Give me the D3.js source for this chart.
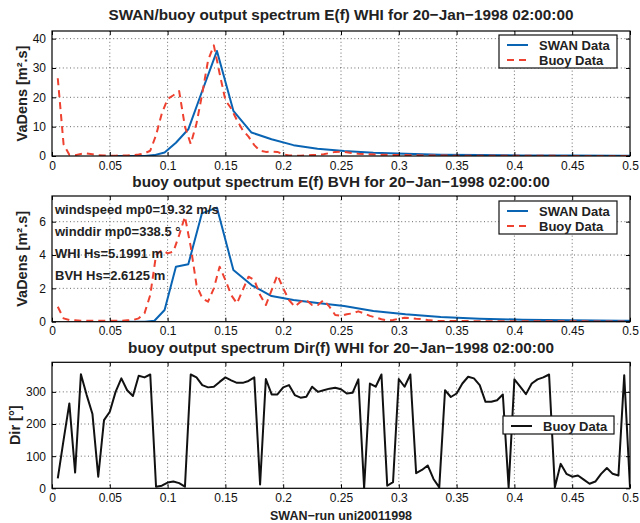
<!DOCTYPE html>
<html><head><meta charset="utf-8">
<script src="https://cdn.jsdelivr.net/npm/d3@7"></script>
<style>body{margin:0;background:#fff} svg{display:block;font-family:"Liberation Sans",Arial,Helvetica,sans-serif}</style>
</head><body><svg id="c" width="640" height="523"></svg>
<script>
// ---------------- data ----------------
const freqBuoy = [0.005,0.01,0.015,0.02,0.025,0.03,0.035,0.04,0.045,0.05,
0.055,0.06,0.065,0.07,0.075,0.08,0.085,0.09,0.095,0.1,
0.105,0.11,0.115,0.12,0.125,0.13,0.135,0.14,0.145,0.15,
0.155,0.16,0.165,0.17,0.175,0.18,0.185,0.19,0.195,0.2,
0.205,0.21,0.215,0.22,0.225,0.23,0.235,0.24,0.245,0.25,
0.255,0.26,0.265,0.27,0.275,0.28,0.285,0.29,0.295,0.3,
0.305,0.31,0.315,0.32,0.325,0.33,0.335,0.34,0.345,0.35,
0.355,0.36,0.365,0.37,0.375,0.38,0.385,0.39,0.395,0.4,
0.405,0.41,0.415,0.42,0.425,0.43,0.435,0.44,0.445,0.45,
0.455,0.46,0.465,0.47,0.475,0.48,0.485,0.49,0.495,0.5];

const freqSwan = [0.05,0.055,0.0605,0.0666,0.0732,0.0805,0.0886,0.0974,0.1072,0.1179,
0.1297,0.1427,0.1569,0.1726,0.1899,0.2089,0.2297,0.2527,0.278,0.3058,
0.3363,0.37,0.407,0.4477,0.4924,0.5417];

const swanWHI = [0,0,0,0,0,0,0.3,1.2,4.5,9.1,
21.9,35.8,15.4,8.0,5.7,3.7,2.5,1.7,1.1,0.8,
0.45,0.3,0.2,0.15,0.1,0.07];

const swanBVH = [0,0,0,0,0,0,0.06,0.7,3.3,3.44,
6.5,6.84,3.1,2.2,1.54,1.3,1.12,0.94,0.64,0.44,
0.28,0.18,0.12,0.08,0.06,0.04];

const buoyWHI = [26.5,4.0,0.4,0.3,0.7,0.9,0.6,0.3,0.2,0.1,
0.1,0.2,0.2,0.3,0.5,0.9,1.8,7.1,14.5,19.4,
20.7,22.1,10.0,4.1,11.1,21.3,32.6,37.7,28.1,19.0,
16.2,12.2,8.8,6.6,3.7,1.8,1.4,1.5,1.4,0.6,
0.2,0.1,0.1,0.2,0.3,0.4,0.6,1.0,1.4,1.5,
1.3,1.0,0.8,0.7,0.6,0.5,0.45,0.4,0.35,0.3,
0.3,0.25,0.22,0.2,0.18,0.16,0.15,0.14,0.13,0.12,
0.11,0.11,0.1,0.1,0.09,0.09,0.08,0.08,0.07,0.07,
0.06,0.06,0.06,0.05,0.05,0.05,0.05,0.04,0.04,0.04,
0.04,0.04,0.03,0.03,0.03,0.03,0.03,0.03,0.03,0.03];

const buoyBVH = [0.9,0.2,0.1,0.08,0.06,0.05,0.06,0.05,0.05,0.05,
0.06,0.06,0.08,0.1,0.2,0.5,1.6,4.0,4.3,4.1,
4.2,5.2,6.3,4.5,2.2,1.4,1.2,2.0,3.3,2.5,
1.6,1.1,1.9,2.7,2.5,1.6,1.0,1.9,2.8,2.0,
1.3,0.9,1.2,1.3,1.0,1.0,1.3,0.9,0.4,0.35,
0.45,0.5,0.62,0.5,0.35,0.25,0.15,0.08,0.1,0.18,
0.24,0.22,0.18,0.15,0.1,0.06,0.04,0.04,0.04,0.04,
0.04,0.04,0.03,0.03,0.03,0.03,0.03,0.03,0.03,0.03,
0.02,0.02,0.02,0.02,0.02,0.02,0.02,0.02,0.02,0.02,
0.02,0.02,0.01,0.01,0.01,0.01,0.01,0.01,0.01,0.01];

const dirWHI = [31,150,264,49,355,290,231,36,212,238,
300,342,305,287,350,345,354,5,8,18,
21,16,5,354,345,321,314,316,331,345,
336,328,328,334,345,12,340,292,292,314,
321,290,282,285,316,300,305,310,313,308,
295,297,339,0,326,316,354,8,19,340,
316,354,47,57,71,29,3,305,284,295,
326,347,342,321,269,269,274,292,3,339,
316,293,326,339,345,354,3,76,45,36,
40,27,14,21,45,63,45,40,352,3];

const xTickValues = [0,0.05,0.1,0.15,0.2,0.25,0.3,0.35,0.4,0.45,0.5];
const xTickLabels = ["0","0.05","0.1","0.15","0.2","0.25","0.3","0.35","0.4","0.45","0.5"];
const yTicksE1 = [0,10,20,30,40];
const yTicksE2 = [0,2,4,6];
const yTicksDir = [0,100,200,300];

const titles = [
  "SWAN/buoy output spectrum E(f) WHI for 20\u2212Jan\u22121998 02:00:00",
  "buoy output spectrum E(f) BVH for 20\u2212Jan\u22121998 02:00:00",
  "buoy output spectrum Dir(f) WHI for 20\u2212Jan\u22121998 02:00:00"
];
const yLabels = ["VaDens [m\u00B2.s]","VaDens [m\u00B2.s]","Dir [\u00B0]"];
const xLabel = "SWAN\u2212run uni20011998";
const legendNames = ["SWAN Data","Buoy Data"];
const infoLines = ["windspeed mp0=19.32 m/s","winddir mp0=338.5 \u00B0","WHI Hs=5.1991 m","BVH Hs=2.6125 m"];

// ---------------- drawing ----------------
const svg = d3.select("#c");
const L = 52, R = 630;
const BLUE = "#0a64b4", RED = "#ee4130";
const x = d3.scaleLinear().domain([0,0.5]).range([L,R]);

function panel(o){
  const g = svg.append("g");
  const y = d3.scaleLinear().domain([0,o.ymax]).range([o.bottom,o.top]);
  const id = "clip"+o.key;
  svg.append("clipPath").attr("id",id).append("rect")
    .attr("x",L).attr("y",o.top).attr("width",R-L).attr("height",o.bottom-o.top);

  // grid
  const grid = g.append("g").attr("stroke","#444").attr("stroke-width",0.8).attr("stroke-dasharray","1,2.6");
  grid.selectAll(".gx").data(xTickValues.slice(1,-1)).join("line")
    .attr("x1",d=>x(d)).attr("x2",d=>x(d)).attr("y1",o.top).attr("y2",o.bottom);
  grid.selectAll(".gy").data(o.yTicks.slice(1)).join("line")
    .attr("y1",d=>y(d)).attr("y2",d=>y(d)).attr("x1",L).attr("x2",R);

  // series
  const lines = g.append("g").attr("clip-path",`url(#${id})`);
  o.series.forEach(s=>{
    const line = d3.line().x((d,i)=>x(s.xs[i])).y(d=>y(d));
    lines.append("path").datum(s.ys).attr("d",line).attr("fill","none")
      .attr("stroke",s.color).attr("stroke-width",2)
      .attr("stroke-linejoin","round")
      .attr("stroke-dasharray",s.dash||null);
  });

  // axes
  const fmt = (d,i)=>xTickLabels[i];
  g.append("g").attr("transform",`translate(0,${o.bottom})`)
    .call(d3.axisBottom(x).tickValues(xTickValues).tickSize(-4).tickPadding(5).tickFormat(fmt));
  g.append("g").attr("transform",`translate(0,${o.top})`)
    .call(d3.axisTop(x).tickValues(xTickValues).tickSize(-4).tickFormat(""));
  g.append("g").attr("transform",`translate(${L},0)`)
    .call(d3.axisLeft(y).tickValues(o.yTicks).tickSize(-4).tickPadding(6).tickFormat(d3.format("d")));
  g.append("g").attr("transform",`translate(${R},0)`)
    .call(d3.axisRight(y).tickValues(o.yTicks).tickSize(-4).tickFormat(""));
  g.selectAll(".domain").remove();
  g.selectAll(".tick line").attr("stroke","#000").attr("stroke-width",1);
  g.selectAll(".tick text").attr("font-size",12).attr("fill","#111")
    .attr("font-family",'"Liberation Sans",Arial,sans-serif');

  g.append("rect").attr("x",L).attr("y",o.top).attr("width",R-L).attr("height",o.bottom-o.top)
    .attr("fill","none").attr("stroke","#000").attr("stroke-width",1.2);

  // title
  svg.append("text").attr("x",(L+R)/2).attr("y",o.titleY).attr("text-anchor","middle")
    .attr("font-size",15.3).attr("font-weight","bold").attr("fill","#222").text(o.title);
  // y label
  svg.append("text").attr("transform",`translate(${o.ylx},${(o.top+o.bottom)/2}) rotate(-90)`)
    .attr("text-anchor","middle").attr("font-size",14.5).attr("font-weight","bold").attr("fill","#222").text(o.ylabel);

  // legend
  const lg = o.legend;
  const lgG = svg.append("g");
  lgG.append("rect").attr("x",lg.x).attr("y",lg.y).attr("width",lg.w).attr("height",lg.h)
    .attr("fill","#fff").attr("stroke","#111").attr("stroke-width",1.2);
  lg.items.forEach((it,i)=>{
    const yy = lg.y + 10 + i*15;
    lgG.append("line").attr("x1",lg.x+8).attr("x2",lg.x+29).attr("y1",yy).attr("y2",yy)
      .attr("stroke",it.color).attr("stroke-width",2).attr("stroke-dasharray",it.dash||null);
    lgG.append("text").attr("x",lg.x+40).attr("y",yy+4.5).attr("font-size",13).attr("font-weight","bold")
      .attr("fill","#222").text(it.name);
  });
  return {g,y};
}

panel({key:1, top:31, bottom:156, ymax:42.6, yTicks:yTicksE1, title:titles[0], titleY:19.5, ylabel:yLabels[0], ylx:27,
  series:[{xs:freqSwan, ys:swanWHI, color:BLUE},{xs:freqBuoy, ys:buoyWHI, color:RED, dash:"7,5"}],
  legend:{x:499,y:35,w:118,h:33,items:[{name:legendNames[0],color:BLUE},{name:legendNames[1],color:RED,dash:"7,5"}]}
});

panel({key:2, top:196, bottom:321.7, ymax:7.54, yTicks:yTicksE2, title:titles[1], titleY:186.8, ylabel:yLabels[1], ylx:27,
  series:[{xs:freqSwan, ys:swanBVH, color:BLUE},{xs:freqBuoy, ys:buoyBVH, color:RED, dash:"7,5"}],
  legend:{x:499,y:201,w:118,h:33,items:[{name:legendNames[0],color:BLUE},{name:legendNames[1],color:RED,dash:"7,5"}]}
});

infoLines.forEach((t,i)=>{
  svg.append("text").attr("x",55).attr("y",213.5+i*22).attr("font-size",13).attr("font-weight","bold")
    .attr("fill","#222").text(t);
});

panel({key:3, top:362.3, bottom:488.3, ymax:392, yTicks:yTicksDir, title:titles[2], titleY:352.8, ylabel:yLabels[2], ylx:20,
  series:[{xs:freqBuoy, ys:dirWHI, color:"#111"}],
  legend:{x:503,y:416,w:111,h:18,items:[{name:legendNames[1],color:"#111"}]}
});

svg.append("text").attr("x",(L+R)/2).attr("y",519.5).attr("text-anchor","middle")
  .attr("font-size",12.5).attr("font-weight","bold").attr("fill","#222").text(xLabel);
</script>
</body></html>
